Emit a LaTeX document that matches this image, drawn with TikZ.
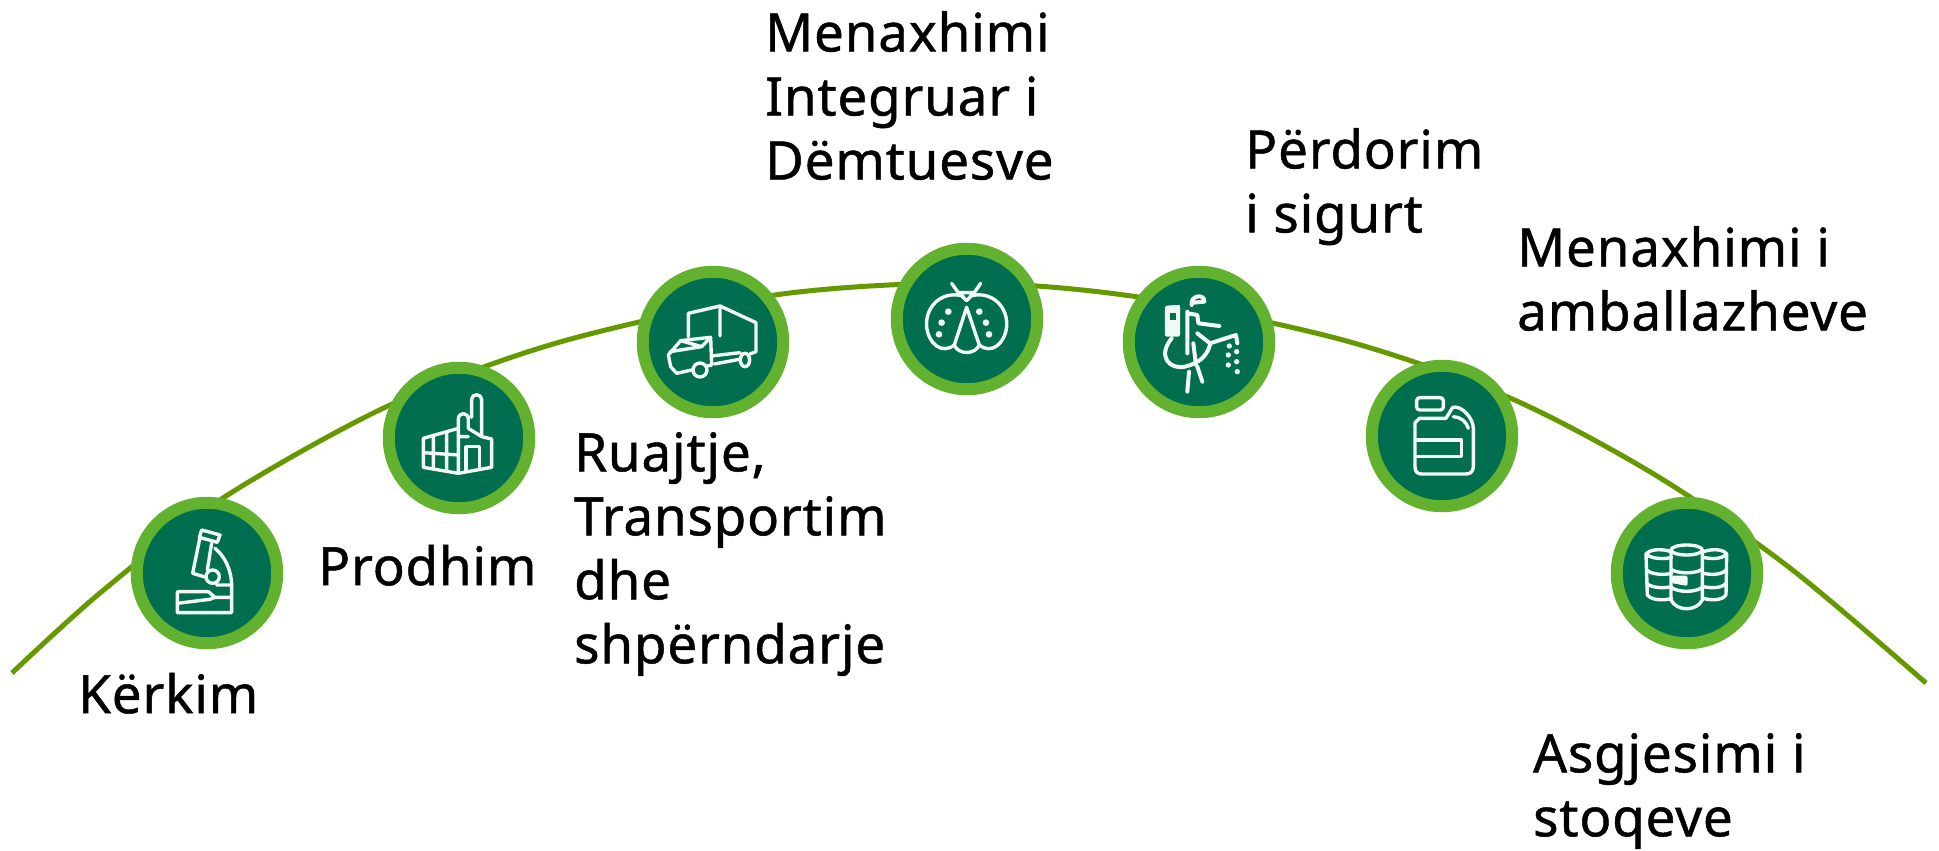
\documentclass[tikz,border=0pt]{standalone}
\usepackage{fontspec}
\setmainfont[RawFeature={embolden=0.9},LetterSpace=1.5]{Noto Sans}
\tikzset{
  disc/.style={circle,draw=ringgreen,fill=darkgreen,line width=12pt,minimum size=140.5pt,inner sep=0pt},
  icon/.style={draw=iconwhite,line width=3.4pt,line join=round,line cap=round},
  lbl/.style={inner sep=0pt,align=left,anchor=north west,font=\fontsize{53}{64}\selectfont,text=black,execute at begin node={\rule{0pt}{50pt}}},
}
\definecolor{ringgreen}{HTML}{62B22F}
\definecolor{darkgreen}{HTML}{006E4F}
\definecolor{arcgreen}{HTML}{669900}
\definecolor{iconwhite}{HTML}{F2F8F4}
\begin{document}
\begin{tikzpicture}[x=1pt,y=-1pt]
\useasboundingbox (0,0) rectangle (1939,851);
\coordinate (s) at (12,673);
\coordinate (e) at (1926,683);
\draw[arcgreen,line width=5pt,smooth] plot coordinates {(s) (100,593) (223,498) (390,405) (560,342) (775,295) (967,283) (1138,297) (1343,340) (1510,398) (1657,476) (1790,568) (e)};
\node[disc] (a) at (207,573) {};
\node[disc] (b) at (459,438) {};
\node[disc] (c) at (713,342) {};
\node[disc] (d) at (967,319) {};
\node[disc] (f) at (1199,342) {};
\node[disc] (g) at (1442,436) {};
\node[disc] (h) at (1687,573) {};
% microscope
\begin{scope}[shift={(100,340)},x=0.3333pt,y=-0.3333pt]
\draw[icon] (305,570)--(360,585)--(352,607)--(298,592)--cycle;
\draw[icon] (300,592)--(278,700)--(318,712) (335,610)--(322,690);
\draw[icon] (345,625) .. controls (375,650) and (395,690) .. (395,740)--(395,818)--(232,818)--(232,755)--(325,755)--(345,772)--(395,772);
\draw[icon] (338,710) circle[radius=20];
\draw[icon] (232,790)--(330,778)--(345,772) (350,735)--(395,735);
\end{scope}
% factory
\begin{scope}[shift={(100,340)},x=0.3333pt,y=-0.3333pt]
\draw[icon] (1115,232)--(1115,178) .. controls (1115,160) and (1145,160) .. (1145,178)--(1145,290)--(1175,297)--(1175,382)--(1075,400)--(970,382)--(970,295)--(1075,265)--(1075,238) .. controls (1075,215) and (1105,215) .. (1105,238)--(1105,265);
\draw[icon] (1075,265)--(1075,400) (1105,265)--(1145,290) (1075,290)--(1105,290);
\draw[icon] (1000,288)--(1000,385) (1040,278)--(1040,392) (970,338)--(1075,345);
\draw[icon] (1098,392)--(1098,320)--(1138,320)--(1138,385);
\end{scope}
% truck
\begin{scope}[shift={(620,230)},x=0.3333pt,y=-0.3333pt]
\draw[icon] (205,320)--(205,250)--(300,228)--(408,278)--(408,365)--(390,372);
\draw[icon] (300,228)--(300,318) (275,378)--(360,368) (283,402)--(358,388);
\draw[icon] (145,375)--(182,332)--(272,322)--(275,405)--(262,408);
\draw[icon] (145,375)--(152,410)--(170,430)--(215,420);
\draw[icon] (150,365)--(245,350)--(272,322) (182,332)--(245,350);
\draw[icon] (240,420) circle[radius=21];
\draw[icon] (375,390) ellipse[x radius=14,y radius=20];
\end{scope}
% bug
\begin{scope}[shift={(620,230)},x=0.3333pt,y=-0.3333pt]
\draw[icon] (995,160)--(1015,188)--(1063,188)--(1082,160);
\draw[icon] (1015,188)--(1040,212)--(1063,188);
\draw[icon] (1030,198) .. controls (960,180) and (915,235) .. (920,290) .. controls (925,340) and (965,375) .. (1003,345) .. controls (1015,375) and (1065,375) .. (1078,345) .. controls (1115,375) and (1155,340) .. (1160,290) .. controls (1165,235) and (1120,180) .. (1050,198);
\draw[icon] (1003,345)--(1040,232)--(1078,345);
\foreach \p in {(985,245),(965,278),(957,313),(1078,245),(1098,278),(1107,313)}
  \fill[iconwhite] \p circle[radius=10];
\end{scope}
% sprayer
\begin{scope}[shift={(1110,250)},x=0.3333pt,y=-0.3333pt]
\draw[icon,fill=iconwhite] (170,172)--(205,170)--(205,255)--(170,255)--cycle;
\fill[darkgreen] (180,190) rectangle (197,210);
\draw[icon,line width=4pt] (245,165) .. controls (240,135) and (285,130) .. (283,155) -- (250,158);
\draw[icon,line width=4pt] (232,185)--(232,310) (232,190)--(262,195)--(265,220)--(328,228) (262,250)--(300,280)--(378,255)--(382,280);
\draw[icon,line width=4pt] (185,265) .. controls (140,320) and (180,360) .. (225,350) .. controls (265,340) and (290,320) .. (300,285);
\draw[icon,line width=4pt] (237,365)--(232,425) (262,350)--(277,395) (250,280)--(258,345);
\foreach \p in {(358,288),(380,305),(355,315),(380,335),(355,345),(382,365)}
  \fill[iconwhite] \p circle[radius=8];
\end{scope}
% jug
\begin{scope}[shift={(1370,360)},x=0.3333pt,y=-0.3333pt]
\draw[icon,rounded corners=3pt] (140,113) rectangle (220,150);
\draw[icon] (135,320)--(135,188)--(148,175)--(228,175)--(248,142) .. controls (275,135) and (310,175) .. (310,205)--(310,320) .. controls (310,335) and (300,342) .. (288,342)--(155,342) .. controls (142,342) and (135,335) .. (135,320);
\draw[icon] (135,240)--(275,240)--(275,290)--(135,290);
\draw[icon] (250,170) .. controls (270,170) and (290,185) .. (295,205);
\end{scope}
% barrels
\begin{scope}[shift={(1590,480)},x=0.3333pt,y=-0.3333pt]
\draw[icon] (245,215) .. controls (210,205) and (180,208) .. (168,222)--(172,345) .. controls (185,362) and (225,362) .. (245,355);
\draw[icon] (340,215) .. controls (370,205) and (400,208) .. (410,222)--(408,345) .. controls (395,362) and (365,362) .. (340,355);
\draw[icon] (168,222) .. controls (185,238) and (225,238) .. (245,232);
\draw[icon] (170,270) .. controls (185,285) and (225,285) .. (245,280);
\draw[icon] (170,310) .. controls (185,325) and (225,325) .. (245,320);
\draw[icon] (340,232) .. controls (365,238) and (395,238) .. (410,222);
\draw[icon] (340,280) .. controls (365,285) and (395,285) .. (408,270);
\draw[icon] (340,320) .. controls (365,325) and (395,325) .. (408,310);
\draw[icon] (290,210) ellipse[x radius=47,y radius=15];
\draw[icon] (243,210)--(243,360) .. controls (260,395) and (320,395) .. (337,360)--(337,210);
\draw[icon] (243,268) .. controls (265,282) and (315,282) .. (337,268);
\draw[icon] (243,322) .. controls (265,338) and (315,338) .. (337,322);
\draw[icon,fill=iconwhite] (250,292)--(288,292)--(288,312)--(250,305)--cycle;
\end{scope}
% labels
\node[lbl] (t1) at (78,663) {Kërkim};
\node[lbl] (t2) at (318,535) {Prodhim};
\node[lbl] (t3) at (574,432) {Ruajtje,\\Transportim\\dhe\\shpërndarje};
\node[lbl] (t4) at (765,11) {Menaxhimi\\Integruar i\\Dëmtuesve};
\node[lbl] (t5) at (1245,128) {Përdorim\\i sigurt};
\node[lbl] (t6) at (1517,226) {Menaxhimi i\\amballazheve};
\node[lbl] (t7) at (1533,733) {Asgjesimi i\\stoqeve};
\end{tikzpicture}
\end{document}
